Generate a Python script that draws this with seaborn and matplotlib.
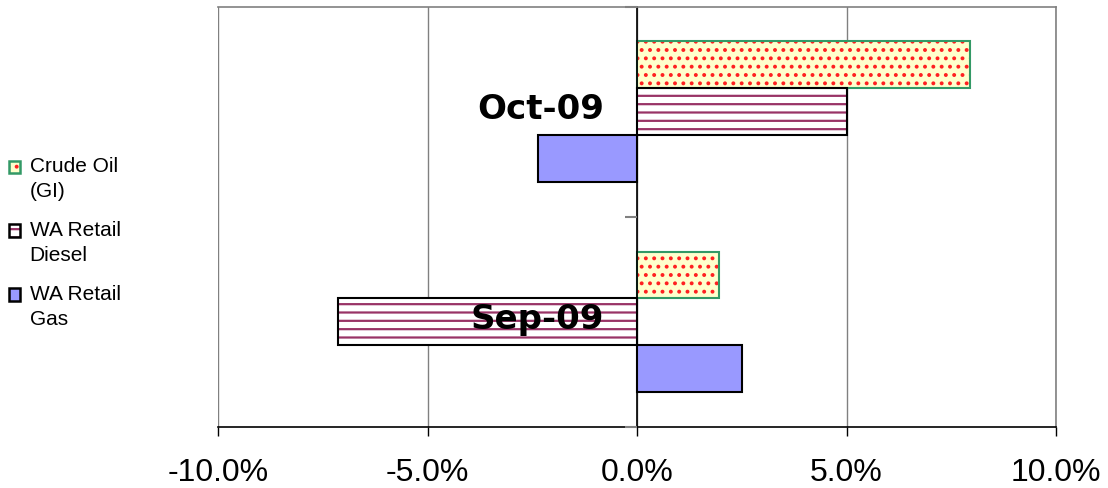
import matplotlib
matplotlib.use("Agg")
import matplotlib.pyplot as plt
import matplotlib.patches as mpatches
import matplotlib.transforms as mtransforms
from matplotlib.legend_handler import HandlerPatch
import pandas as pd
import seaborn as sns

months = ["Oct-09", "Sep-09"]
series = ["Crude Oil (GI)", "WA Retail Diesel", "WA Retail Gas"]
legend_labels = ["Crude Oil\n(GI)", "WA Retail\nDiesel", "WA Retail\nGas"]
crude_oil = [7.95, 1.95]
retail_diesel = [5.02, -7.14]
retail_gas = [-2.36, 2.50]
x_ticks = [-10, -5, 0, 5, 10]

# face colour, hatch, hatch colour, outline colour
styles = {
    "Crude Oil (GI)": ("#FFFFCC", "..", "#FF2020", "#339966"),
    "WA Retail Diesel": ("#FFFFFF", "--", "#993366", "#000000"),
    "WA Retail Gas": ("#9999FF", "", "#9999FF", "#000000"),
}


def raised_box(legend, orig_handle, xdescent, ydescent, width, height, fontsize):
    # put the legend key next to the first line of a two-line label
    return mpatches.Rectangle((-xdescent, -ydescent + 0.55 * fontsize), width, height)


def main():
    sns.set_style("white")
    plt.rcParams["font.family"] = ["Liberation Sans", "DejaVu Sans"]
    plt.rcParams["hatch.linewidth"] = 1.6
    plt.rcParams["text.color"] = "black"
    plt.rcParams["xtick.color"] = "black"
    plt.rcParams["ytick.color"] = "black"

    df = pd.DataFrame({
        "month": months * 3,
        "series": [s for s in series for _ in months],
        "change": crude_oil + retail_diesel + retail_gas,
    })

    fig, ax = plt.subplots(figsize=(11.08, 4.89), dpi=100)
    fig.subplots_adjust(left=0.197, right=0.953, top=0.984, bottom=0.125)

    sns.barplot(data=df, x="change", y="month", hue="series", order=months,
                hue_order=series, orient="h", width=0.67, errorbar=None,
                legend=False, ax=ax)

    handles = []
    for container, name in zip(ax.containers, series):
        face, hatch, hcol, edge = styles[name]
        for bar in container:
            bar.set_facecolor(face)
            bar.set_hatch(hatch)
            bar.set_edgecolor(hcol)
            bar.set_linewidth(0)
            ax.add_patch(mpatches.Rectangle(bar.get_xy(), bar.get_width(), bar.get_height(),
                                            fill=False, edgecolor=edge, lw=1.5,
                                            zorder=bar.get_zorder() + 0.1))
        h1 = mpatches.Patch(facecolor=face, edgecolor=hcol, hatch=hatch, lw=0)
        h2 = mpatches.Patch(fill=False, edgecolor=edge, lw=1.8)
        handles.append((h1, h2))

    ax.set_xlim(-10, 10)
    ax.set_ylim(1.5, -0.5)
    ax.set_xlabel("")
    ax.set_ylabel("")
    ax.set_xticks(x_ticks, labels=[f"{v:.1f}%" for v in x_ticks])
    ax.tick_params(axis="x", which="major", direction="out", length=6.5, width=1,
                   color="black", labelcolor="black", labelsize=23, pad=15, bottom=True)

    ax.set_yticks([-0.5, 0.5, 1.5], labels=["", "", ""])
    ax.set_yticks([0, 1], labels=months, minor=True)
    ax.tick_params(axis="y", which="major", direction="out", length=9, width=1.5,
                   color="#808080", left=True)
    ax.tick_params(axis="y", which="minor", length=0, pad=24, left=True,
                   labelsize=24.5, labelcolor="black")

    ax.xaxis.grid(True, color="#808080", lw=1)
    ax.set_axisbelow(True)
    ax.yaxis.set_zorder(3)

    ax.spines["left"].set_position(("data", 0))
    ax.spines["left"].set_color("black")
    ax.spines["left"].set_linewidth(1.2)
    ax.spines["bottom"].set_color("black")
    ax.spines["bottom"].set_linewidth(1.2)
    for side in ["top", "right"]:
        ax.spines[side].set_color("#808080")
        ax.spines[side].set_linewidth(1.2)

    lift = mtransforms.ScaledTranslation(0, 5 / 72, fig.dpi_scale_trans)
    for lab in ax.get_yticklabels(minor=True):
        lab.set_fontsize(24.5)
        lab.set_fontweight("bold")
        lab.set_family("DejaVu Sans")
        lab.set_color("black")
        lab.set_transform(lab.get_transform() + lift)

    leg = fig.legend(handles, legend_labels, loc="center left", bbox_to_anchor=(0.008, 0.503),
                     frameon=False, fontsize=15, handlelength=0.55, handleheight=0.55,
                     handletextpad=0.45, labelspacing=0.95, borderaxespad=0, borderpad=0,
                     handler_map={mpatches.Patch: HandlerPatch(patch_func=raised_box)})
    for t in leg.get_texts():
        t.set_linespacing(1.4)
        t.set_color("black")

    fig.savefig("out.png", dpi=100)


if __name__ == "__main__":
    main()
